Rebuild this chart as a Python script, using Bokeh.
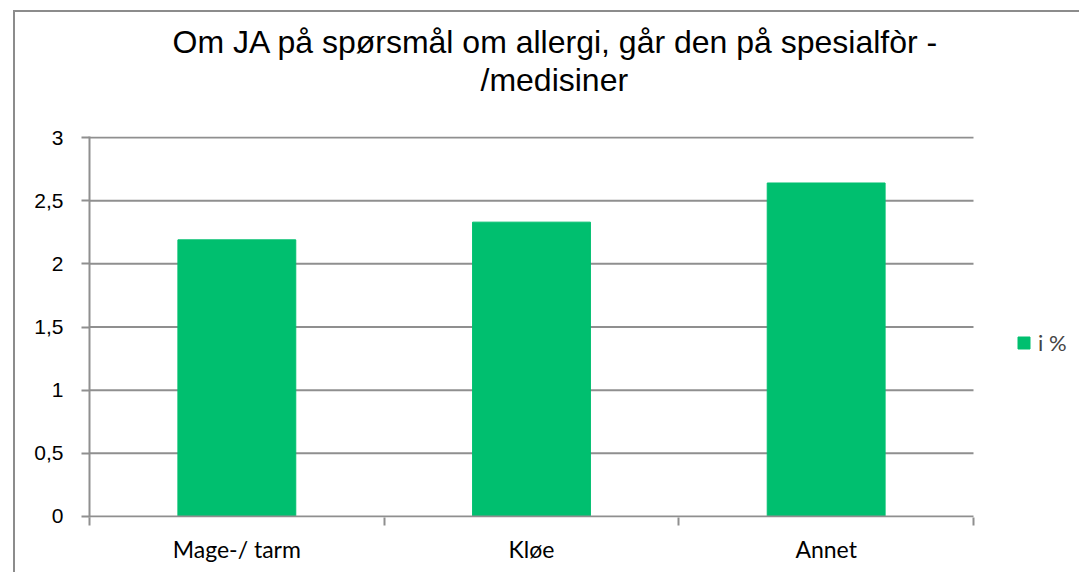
from bokeh.plotting import figure
from bokeh.models import (FixedTicker, Legend, LegendItem, Title, ColumnDataSource, Range1d)
from bokeh.embed import file_html
from bokeh.resources import INLINE

categories = ["Mage-/ tarm", "Kløe", "Annet"]
values = [2.19, 2.33, 2.64]
series_name = "i %"
y_ticks = [0, 0.5, 1, 1.5, 2, 2.5, 3]
y_tick_labels = ["0", "0,5", "1", "1,5", "2", "2,5", "3"]
title_lines = ["Om JA på spørsmål om allergi, går den på spesialfòr -", "/medisiner"]

GREEN = "#00BF6F"
GRAY = "#8F8F8F"

ncat = len(categories)
xpos = [i + 0.5 for i in range(ncat)]
src = ColumnDataSource(dict(x=xpos, top=values, cat=categories))

# plot frame reaches the right edge so that the legend (drawn inside it) is not clipped
x_end = ncat * (1081 - 89) / (973 - 89)

p = figure(width=1066, height=562, output_backend="svg", toolbar_location=None,
           x_range=Range1d(0, x_end), y_range=Range1d(-0.008, 3.008),
           min_border_left=74, min_border_right=0, min_border_top=124, min_border_bottom=57)
p.styles = {"margin-left": "13px", "margin-top": "10px",
            "border-left": "2px solid #8c8c8c", "border-top": "2px solid #8c8c8c"}
p.outline_line_color = None
p.background_fill_color = "white"
p.border_fill_color = "white"

# horizontal gridlines across the category area
grid_src = ColumnDataSource(dict(y=y_ticks[1:], x0=[0] * (len(y_ticks) - 1),
                                 x1=[ncat] * (len(y_ticks) - 1)))
p.segment(x0="x0", x1="x1", y0="y", y1="y", source=grid_src, line_color=GRAY, line_width=2)

r = p.vbar(x="x", top="top", width=0.4, source=src, fill_color=GREEN, line_color=GREEN)

# category axis line at y=0 (drawn over the bars)
p.segment(x0=[0], x1=[ncat], y0=[y_ticks[0]], y1=[y_ticks[0]], line_color=GRAY, line_width=2)

# y axis
p.yaxis.ticker = FixedTicker(ticks=y_ticks)
p.yaxis.major_label_overrides = {t: l for t, l in zip(y_ticks, y_tick_labels)}
p.yaxis.axis_line_color = GRAY
p.yaxis.axis_line_width = 2
p.yaxis.major_tick_line_color = GRAY
p.yaxis.major_tick_line_width = 2
p.yaxis.major_tick_out = 8
p.yaxis.major_tick_in = 0
p.yaxis.minor_tick_line_color = None
p.yaxis.major_label_standoff = 18
p.yaxis.major_label_text_font = "Liberation Sans"
p.yaxis.major_label_text_font_size = "21px"
p.yaxis.major_label_text_color = "black"

# x axis: labels at centres, tick marks at category boundaries
p.xaxis.ticker = FixedTicker(ticks=xpos, minor_ticks=list(range(ncat + 1)))
p.xaxis.major_label_overrides = {x: c for x, c in zip(xpos, categories)}
p.xaxis.axis_line_color = None
p.xaxis.major_tick_line_color = None
p.xaxis.major_tick_out = 0
p.xaxis.major_tick_in = 0
p.xaxis.minor_tick_line_color = GRAY
p.xaxis.minor_tick_line_width = 2
p.xaxis.minor_tick_out = 8
p.xaxis.minor_tick_in = 0
p.xaxis.major_label_standoff = 9
p.xaxis.major_label_text_font = "Lato"
p.xaxis.major_label_text_font_size = "23px"
p.xaxis.major_label_text_color = "black"

p.xgrid.grid_line_color = None
p.ygrid.grid_line_color = None

# title: spacer, line 2, line 1, top spacer (later-added sits further from the frame)
spacer = Title(text=" ", text_font_size="1px", standoff=36)
t2 = Title(text=title_lines[1], align="left", offset=391, standoff=0,
           text_font="Liberation Sans", text_font_size="32px", text_font_style="normal",
           text_color="black")
t1 = Title(text=title_lines[0], align="left", offset=83, standoff=0,
           text_font="Liberation Sans", text_font_size="32px", text_font_style="normal",
           text_color="black")
top_spacer = Title(text=" ", text_font_size="1px", standoff=3)
p.add_layout(spacer, "above")
p.add_layout(t2, "above")
p.add_layout(t1, "above")
p.add_layout(top_spacer, "above")

legend = Legend(items=[LegendItem(label=series_name, renderers=[r])],
                location=(927, 161), glyph_width=15, glyph_height=15,
                label_text_font="Lato", label_text_font_size="22px",
                label_standoff=7, padding=0, margin=0, spacing=0,
                border_line_color=None, background_fill_alpha=0)
p.add_layout(legend, "center")

open("out.html", "w").write(file_html(p, INLINE))
